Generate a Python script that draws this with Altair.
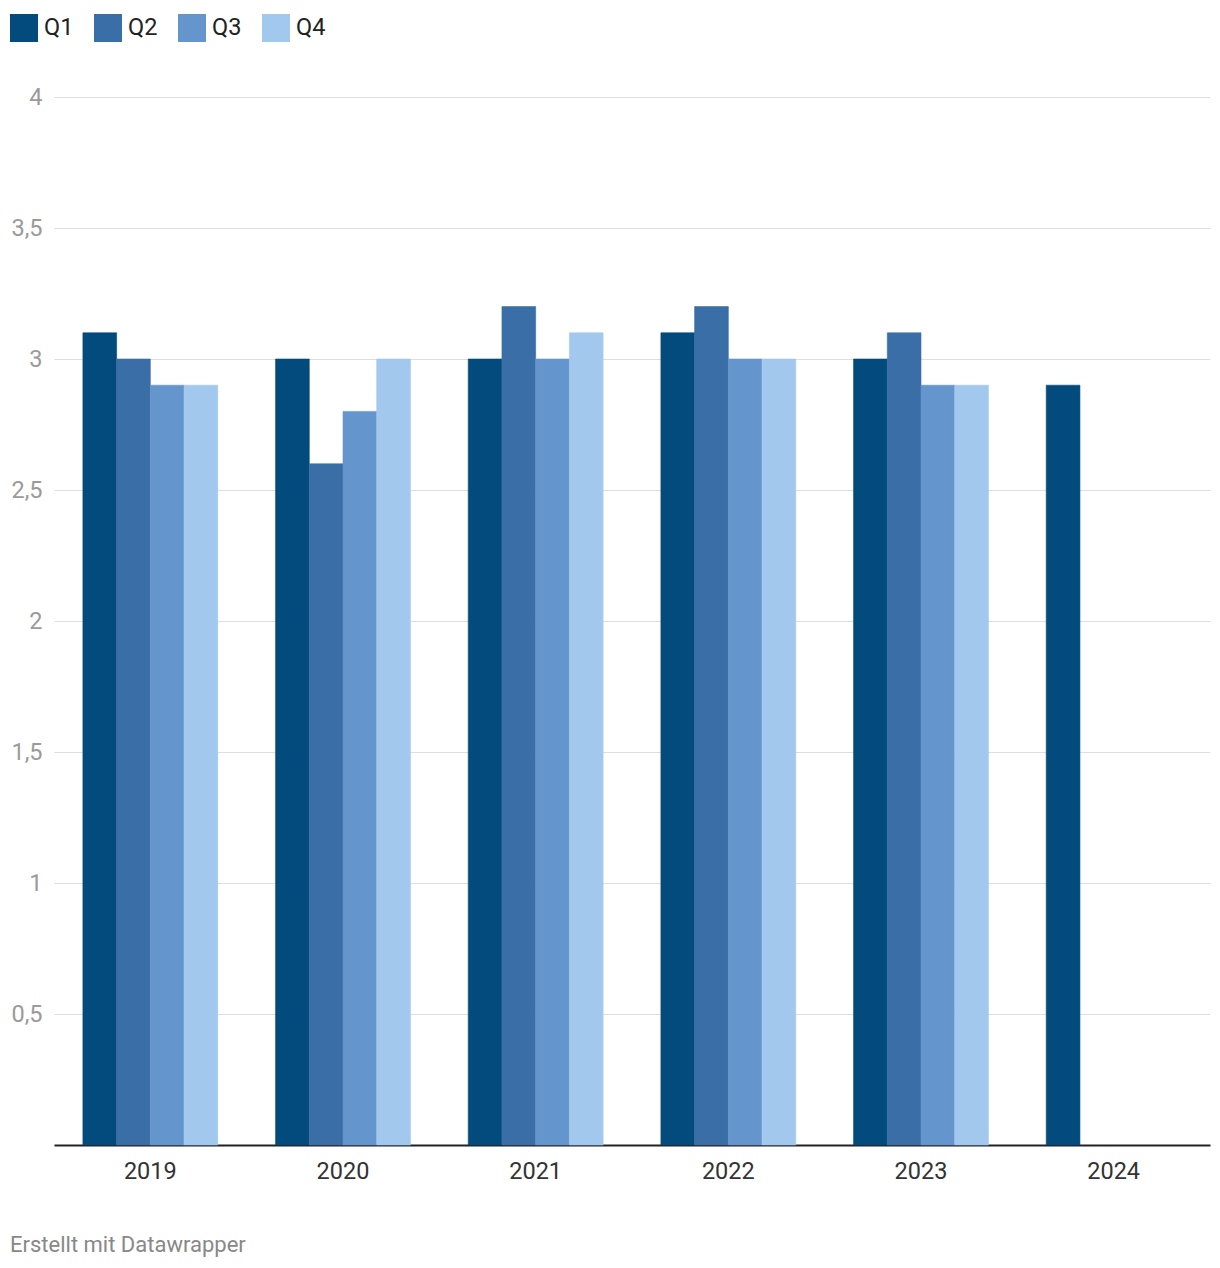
import altair as alt
import pandas as pd

years = ["2019", "2020", "2021", "2022", "2023", "2024"]
quarters = ["Q1", "Q2", "Q3", "Q4"]
q1 = [3.1, 3.0, 3.0, 3.1, 3.0, 2.9]
q2 = [3.0, 2.6, 3.2, 3.2, 3.1, None]
q3 = [2.9, 2.8, 3.0, 3.0, 2.9, None]
q4 = [2.9, 3.0, 3.1, 3.0, 2.9, None]
colors = ["#034a7d", "#396ea6", "#6495cd", "#a3c8ee"]
y_ticks = [0.5, 1, 1.5, 2, 2.5, 3, 3.5, 4]

rows = []
for qname, series in zip(quarters, [q1, q2, q3, q4]):
    for yr, v in zip(years, series):
        if v is not None:
            rows.append({"Jahr": yr, "Quartal": qname, "Wert": v})
df = pd.DataFrame(rows)

color_scale = alt.Scale(domain=quarters, range=colors)

chart = (
    alt.Chart(df)
    .mark_bar(strokeWidth=0.6)
    .encode(
        x=alt.X(
            "Jahr:N",
            sort=years,
            scale=alt.Scale(domain=years, paddingInner=0.3, paddingOuter=0.15),
            axis=alt.Axis(
                title=None,
                labelAngle=0,
                ticks=False,
                domainColor="#222222",
                domainWidth=2,
                labelFontSize=23.5,
                labelColor="#333333",
                labelPadding=14,
                grid=False,
            ),
        ),
        xOffset=alt.XOffset(
            "Quartal:N",
            scale=alt.Scale(domain=quarters, paddingInner=0, paddingOuter=0),
        ),
        y=alt.Y(
            "Wert:Q",
            scale=alt.Scale(domain=[0, 4], nice=False),
            axis=alt.Axis(
                title=None,
                values=y_ticks,
                labelExpr="replace(format(datum.value, ''), '.', ',')",
                ticks=False,
                domain=False,
                grid=True,
                gridColor="#dedede",
                gridWidth=1,
                labelFontSize=23.5,
                labelColor="#9a9a9a",
                labelPadding=12,
            ),
        ),
        color=alt.Color(
            "Quartal:N",
            scale=color_scale,
            legend=alt.Legend(
                title=None,
                orient="none",
                legendX=-44,
                legendY=-83,
                direction="horizontal",
                symbolType="square",
                symbolSize=784,
                symbolStrokeWidth=0,
                symbolOpacity=1,
                labelFontSize=23.5,
                labelColor="#222222",
                labelOffset=6,
                columnPadding=20,
            ),
        ),
        stroke=alt.Stroke("Quartal:N", scale=color_scale, legend=None),
    )
    .properties(
        width=1156,
        height=1048,
        padding={"top": 6, "left": 2, "right": 2, "bottom": 10},
        title=alt.TitleParams(
            "Erstellt mit Datawrapper",
            orient="bottom",
            anchor="start",
            frame="bounds",
            fontSize=22,
            fontWeight="normal",
            color="#888888",
            offset=52,
        ),
    )
    .configure(font="Roboto")
    .configure_view(stroke=None)
)

chart.save("out.html", embed_options={"renderer": "svg", "actions": False})
